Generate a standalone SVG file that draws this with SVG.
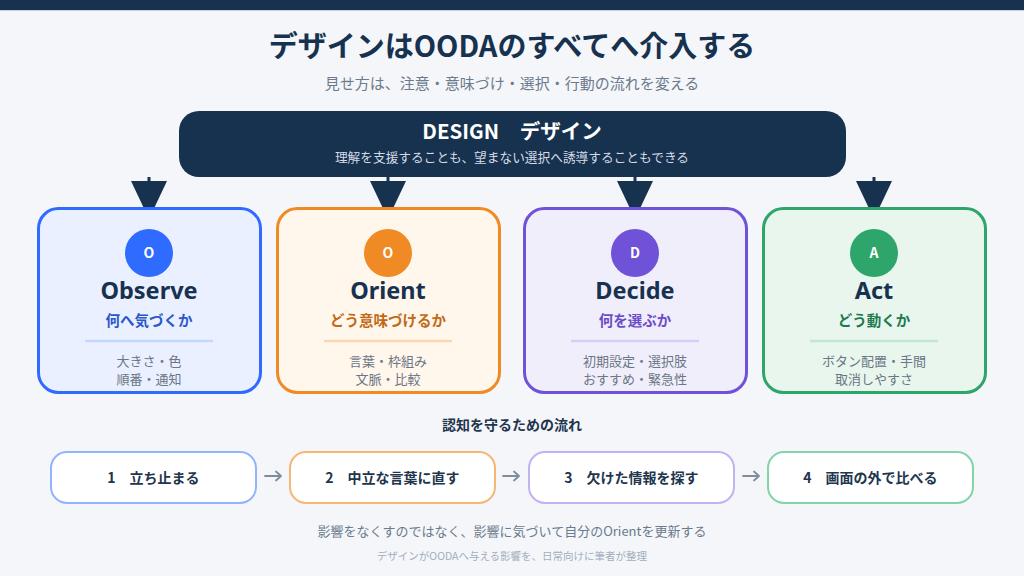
<svg xmlns="http://www.w3.org/2000/svg" width="1024" height="576" viewBox="0 0 1024 576">
  <defs>
    <style>
      text { font-family: "Noto Sans CJK JP", "Noto Sans", sans-serif; text-anchor: middle; }
      .title { font-size: 29px; font-weight: 700; fill: #17324f; }
      .sub { font-size: 15px; fill: #6b7a8c; }
      .dtitle { font-size: 20.5px; font-weight: 700; fill: #ffffff; }
      .dsub { font-size: 12.7px; fill: #d3dbe6; }
      .letter { font-size: 14px; font-weight: 700; fill: #ffffff; }
      .name { font-family: "Noto Sans", "Noto Sans CJK JP", sans-serif; font-size: 23.5px; font-weight: 700; fill: #17324f; }
      .q { font-size: 14.5px; font-weight: 700; }
      .det { font-size: 13px; fill: #6b7785; }
      .card { stroke-width: 3; }
      .step { fill: #ffffff; stroke-width: 2; }
      .steptxt { font-size: 14px; font-weight: 700; fill: #22354d; }
      .flow { font-size: 14px; font-weight: 700; fill: #22354d; }
      .foot1 { font-size: 13px; fill: #6b7a8c; }
      .foot2 { font-size: 10.5px; fill: #a3aebb; }
      .down { fill: #17324f; }
      .stem { stroke: #17324f; stroke-width: 3; }
      .next { fill: none; stroke: #7f8c9a; stroke-width: 1.8; stroke-linecap: round; stroke-linejoin: round; }
    </style>
  </defs>

  <rect x="0" y="0" width="1024" height="576" fill="#f4f6fa"/>
  <rect x="0" y="0" width="1024" height="10" fill="#17324f"/>
  <rect x="0" y="10" width="1024" height="1" fill="#c9d1dc"/>

  <g id="header">
    <text class="title" x="512" y="57">デザインはOODAのすべてへ介入する</text>
    <text class="sub" x="512" y="89">見せ方は、注意・意味づけ・選択・行動の流れを変える</text>
  </g>

  <g id="connectors">
    <line class="stem" x1="149" y1="177" x2="149" y2="184"/>
    <polygon class="down" points="131,181 167,181 149,219"/>
    <line class="stem" x1="388" y1="177" x2="388" y2="184"/>
    <polygon class="down" points="370,181 406,181 388,219"/>
    <line class="stem" x1="635" y1="177" x2="635" y2="184"/>
    <polygon class="down" points="617,181 653,181 635,219"/>
    <line class="stem" x1="874" y1="177" x2="874" y2="184"/>
    <polygon class="down" points="856,181 892,181 874,219"/>

    <path class="next" d="M265 476 H281 M276 471.5 L281 476 L276 480.5"/>
    <path class="next" d="M503 476 H519 M514 471.5 L519 476 L514 480.5"/>
    <path class="next" d="M743 476 H759 M754 471.5 L759 476 L754 480.5"/>
  </g>

  <g id="design">
    <rect x="179" y="111" width="667" height="66" rx="20" fill="#17324f"/>
    <text class="dtitle" x="512" y="139">DESIGN　デザイン</text>
    <text class="dsub" x="512" y="162">理解を支援することも、望まない選択へ誘導することもできる</text>
  </g>

  <g id="observe">
    <rect class="card" x="38.5" y="208.5" width="222" height="184" rx="20" fill="#eaf0ff" stroke="#2f6bff"/>
    <circle cx="149" cy="253" r="24" fill="#2f6bff"/>
    <text class="letter" x="149" y="258">O</text>
    <text class="name" x="149" y="299">Observe</text>
    <text class="q" x="149" y="326" fill="#2b58c8">何へ気づくか</text>
    <line x1="85" y1="341" x2="213" y2="341" stroke="#c6d7ff" stroke-width="2.5"/>
    <text class="det" x="149" y="366">大きさ・色</text>
    <text class="det" x="149" y="384">順番・通知</text>
  </g>

  <g id="orient">
    <rect class="card" x="277.5" y="208.5" width="222" height="184" rx="20" fill="#fff6ec" stroke="#f08a24"/>
    <circle cx="388" cy="253" r="24" fill="#f08a24"/>
    <text class="letter" x="388" y="258">O</text>
    <text class="name" x="388" y="299">Orient</text>
    <text class="q" x="388" y="326" fill="#bf6a16">どう意味づけるか</text>
    <line x1="324" y1="341" x2="452" y2="341" stroke="#fad8b2" stroke-width="2.5"/>
    <text class="det" x="388" y="366">言葉・枠組み</text>
    <text class="det" x="388" y="384">文脈・比較</text>
  </g>

  <g id="decide">
    <rect class="card" x="524.5" y="208.5" width="222" height="184" rx="20" fill="#f1eefc" stroke="#7052d8"/>
    <circle cx="635" cy="253" r="24" fill="#7052d8"/>
    <text class="letter" x="635" y="258">D</text>
    <text class="name" x="635" y="299">Decide</text>
    <text class="q" x="635" y="326" fill="#6a4cc8">何を選ぶか</text>
    <line x1="571" y1="341" x2="699" y2="341" stroke="#d8cdf7" stroke-width="2.5"/>
    <text class="det" x="635" y="366">初期設定・選択肢</text>
    <text class="det" x="635" y="384">おすすめ・緊急性</text>
  </g>

  <g id="act">
    <rect class="card" x="763.5" y="208.5" width="222" height="184" rx="20" fill="#e8f6ee" stroke="#2ea56b"/>
    <circle cx="874" cy="253" r="24" fill="#2ea56b"/>
    <text class="letter" x="874" y="258">A</text>
    <text class="name" x="874" y="299">Act</text>
    <text class="q" x="874" y="326" fill="#217a4f">どう動くか</text>
    <line x1="810" y1="341" x2="938" y2="341" stroke="#c1e7d1" stroke-width="2.5"/>
    <text class="det" x="874" y="366">ボタン配置・手間</text>
    <text class="det" x="874" y="384">取消しやすさ</text>
  </g>

  <g id="flow-label">
    <text class="flow" x="512" y="430">認知を守るための流れ</text>
  </g>

  <g id="step1">
    <rect class="step" x="51" y="452" width="205" height="51" rx="16" stroke="#93b2ff"/>
    <text class="steptxt" x="153.5" y="483">1　立ち止まる</text>
  </g>
  <g id="step2">
    <rect class="step" x="290" y="452" width="205" height="51" rx="16" stroke="#f5b773"/>
    <text class="steptxt" x="392.5" y="483">2　中立な言葉に直す</text>
  </g>
  <g id="step3">
    <rect class="step" x="529" y="452" width="205" height="51" rx="16" stroke="#c3b2f2"/>
    <text class="steptxt" x="631.5" y="483">3　欠けた情報を探す</text>
  </g>
  <g id="step4">
    <rect class="step" x="768" y="452" width="205" height="51" rx="16" stroke="#84d4aa"/>
    <text class="steptxt" x="870.5" y="483">4　画面の外で比べる</text>
  </g>

  <g id="footer">
    <text class="foot1" x="512" y="536">影響をなくすのではなく、影響に気づいて自分のOrientを更新する</text>
    <text class="foot2" x="512" y="560">デザインがOODAへ与える影響を、日常向けに筆者が整理</text>
  </g>
</svg>
